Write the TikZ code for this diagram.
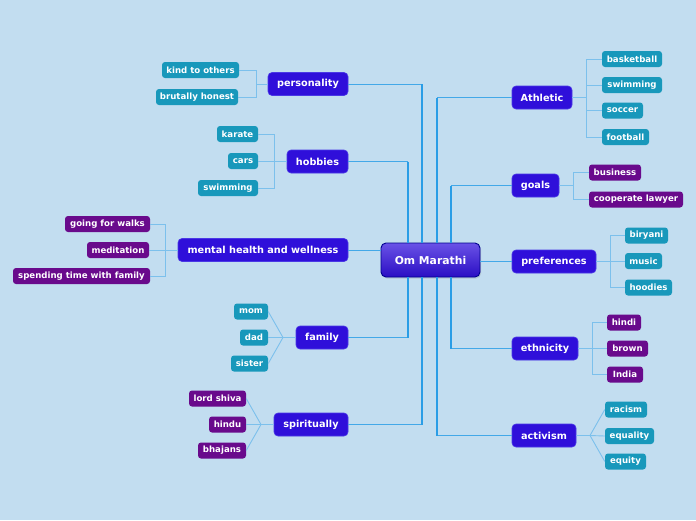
\documentclass[tikz,border=0pt]{standalone}
\usepackage{fontspec}
\setmainfont{DejaVu Sans}
\usetikzlibrary{shadows}
\definecolor{bgc}{HTML}{C2DDF0}
\definecolor{mainc}{HTML}{2F0FDA}
\definecolor{mainb}{HTML}{4A38E6}
\definecolor{tealc}{HTML}{1898BB}
\definecolor{purc}{HTML}{690A8C}
\definecolor{trunkc}{HTML}{2A9DE6}
\definecolor{linkc}{HTML}{7CC0EC}
\tikzset{
  mainnode/.style={draw=mainb, line width=0.6pt, fill=mainc, rounded corners=4pt, text=white,
    font=\fontsize{9.7}{11}\selectfont\bfseries, inner sep=0pt, minimum height=23pt},
  leafnode/.style={fill=#1, rounded corners=3pt, text=white,
    font=\fontsize{8.6}{10}\selectfont\bfseries, inner sep=0pt, minimum height=16pt},
  trunkh/.style={draw=trunkc!70!linkc, line width=1pt},
  trunkv/.style={draw=trunkc, line width=1.5pt},
  linkl/.style={draw=linkc, line width=0.9pt}
}
\begin{document}
\begin{tikzpicture}[x=1pt,y=-1pt]
\fill[bgc] (0,0) rectangle (696,520);
\useasboundingbox (0,0) rectangle (696,520);

% root
\node[draw=black!30!blue!80!black, line width=0.9pt, top color=violet!40!blue!60!white!80!blue, bottom color=mainc!90!black,
  rounded corners=5pt, text=white, font=\fontsize{10.8}{12}\selectfont\bfseries, inner sep=0pt,
  minimum width=99pt, minimum height=34pt,
  drop shadow={opacity=0.25, shadow xshift=1pt, shadow yshift=-1.5pt}] (om) at (430.5,260) {Om Marathi};

% main topics
\node[mainnode, minimum width=80pt] (pers) at (308,84) {personality};
\node[mainnode, minimum width=61pt] (hob) at (317.5,161.5) {hobbies};
\node[mainnode, minimum width=170pt] (ment) at (263,250) {mental health and wellness};
\node[mainnode, minimum width=52pt] (fam) at (322,337.5) {family};
\node[mainnode, minimum width=74pt] (spir) at (311,424.5) {spiritually};
\node[mainnode, minimum width=60pt] (ath) at (542,97.5) {Athletic};
\node[mainnode, minimum width=47pt] (goal) at (535.5,185.5) {goals};
\node[mainnode, minimum width=84pt] (pref) at (554,261.5) {preferences};
\node[mainnode, minimum width=66pt] (eth) at (545,348.5) {ethnicity};
\node[mainnode, minimum width=64pt] (act) at (544,435.5) {activism};

% leaves
\node[leafnode=tealc, minimum width=77pt] (kind) at (200.5,70) {kind to others};
\node[leafnode=tealc, minimum width=82pt] (brut) at (197,97) {brutally honest};
\node[leafnode=tealc, minimum width=41pt] (kar) at (237.5,134) {karate};
\node[leafnode=tealc, minimum width=30pt] (cars) at (243,161) {cars};
\node[leafnode=tealc, minimum width=60pt] (swim) at (228,188) {swimming};
\node[leafnode=purc, minimum width=85pt] (walk) at (107.5,224) {going for walks};
\node[leafnode=purc, minimum width=62pt] (medi) at (118,250) {meditation};
\node[leafnode=purc, minimum width=137pt] (spend) at (81.5,276) {spending time with family};
\node[leafnode=tealc, minimum width=34pt] (mom) at (251,311.5) {mom};
\node[leafnode=tealc, minimum width=28pt] (dad) at (254,337.5) {dad};
\node[leafnode=tealc, minimum width=37pt] (sis) at (249.5,363.5) {sister};
\node[leafnode=purc, minimum width=57pt] (shiva) at (217.5,398.5) {lord shiva};
\node[leafnode=purc, minimum width=37pt] (hindu) at (227.5,424.5) {hindu};
\node[leafnode=purc, minimum width=48pt] (bhaj) at (222,450.5) {bhajans};
\node[leafnode=tealc, minimum width=60pt] (bask) at (632,59) {basketball};
\node[leafnode=tealc, minimum width=60pt] (swim2) at (632,85) {swimming};
\node[leafnode=tealc, minimum width=41pt] (socc) at (622.5,110.5) {soccer};
\node[leafnode=tealc, minimum width=47pt] (foot) at (625.5,137) {football};
\node[leafnode=purc, minimum width=52pt] (bus) at (615,172.5) {business};
\node[leafnode=purc, minimum width=94pt] (law) at (636,199.5) {cooperate lawyer};
\node[leafnode=tealc, minimum width=43pt] (bir) at (646.5,235.5) {biryani};
\node[leafnode=tealc, minimum width=37pt] (mus) at (643.5,261) {music};
\node[leafnode=tealc, minimum width=47pt] (hood) at (648.5,287.5) {hoodies};
\node[leafnode=purc, minimum width=34pt] (hindi) at (624,322.5) {hindi};
\node[leafnode=purc, minimum width=41pt] (brown) at (627.5,348.5) {brown};
\node[leafnode=purc, minimum width=36pt] (india) at (625,374.5) {India};
\node[leafnode=tealc, minimum width=42pt] (rac) at (626,409.5) {racism};
\node[leafnode=tealc, minimum width=49pt] (equa) at (629.5,436) {equality};
\node[leafnode=tealc, minimum width=41pt] (equi) at (625.5,461.5) {equity};

% trunk coordinates on root
\coordinate (t1) at ([xshift=-8.5pt]om.north);
\coordinate (t2) at ([xshift=-22.5pt]om.north);
\coordinate (t3) at ([xshift=6.5pt]om.north);
\coordinate (t4) at ([xshift=20.5pt]om.north);
\coordinate (b1) at ([xshift=-22.5pt]om.south);
\coordinate (b2) at ([xshift=-8.5pt]om.south);
\coordinate (b3) at ([xshift=6.5pt]om.south);
\coordinate (b4) at ([xshift=20.5pt]om.south);

\draw[trunkh] (pers.east) -- (pers.east -| t1);
\draw[trunkv] (pers.east -| t1) -- (t1);
\draw[trunkh] (hob.east) -- (hob.east -| t2);
\draw[trunkv] (hob.east -| t2) -- (t2);
\draw[trunkh] (ath.west) -- (ath.west -| t3);
\draw[trunkv] (ath.west -| t3) -- (t3);
\draw[trunkh] (goal.west) -- (goal.west -| t4);
\draw[trunkv] (goal.west -| t4) -- (t4);
\draw[trunkh] (fam.east) -- (fam.east -| b1);
\draw[trunkv] (fam.east -| b1) -- (b1);
\draw[trunkh] (spir.east) -- (spir.east -| b2);
\draw[trunkv] (spir.east -| b2) -- (b2);
\draw[trunkh] (act.west) -- (act.west -| b3);
\draw[trunkv] (act.west -| b3) -- (b3);
\draw[trunkh] (eth.west) -- (eth.west -| b4);
\draw[trunkv] (eth.west -| b4) -- (b4);
\draw[trunkh] (ment.east) -- (ment.east -| om.west);
\draw[trunkh] (om.east |- pref.west) -- (pref.west);

% leaf links (elbow)
\draw[linkl] (pers.west) -- (256,84) |- (kind.east);
\draw[linkl] (256,84) |- (brut.east);
\draw[linkl] (hob.west) -- (274,161.5) |- (kar.east);
\draw[linkl] (274,161.5) |- (cars.east);
\draw[linkl] (274,161.5) |- (swim.east);
\draw[linkl] (ment.west) -- (165,250) |- (walk.east);
\draw[linkl] (165,250) |- (medi.east);
\draw[linkl] (165,250) |- (spend.east);
\draw[linkl] (ath.east) -- (586,97.5) |- (bask.west);
\draw[linkl] (586,97.5) |- (swim2.west);
\draw[linkl] (586,97.5) |- (socc.west);
\draw[linkl] (586,97.5) |- (foot.west);
\draw[linkl] (goal.east) -- (573,185.5) |- (bus.west);
\draw[linkl] (573,185.5) |- (law.west);
\draw[linkl] (pref.east) -- (610,261.5) |- (bir.west);
\draw[linkl] (610,261.5) |- (mus.west);
\draw[linkl] (610,261.5) |- (hood.west);
\draw[linkl] (eth.east) -- (592,348.5) |- (hindi.west);
\draw[linkl] (592,348.5) |- (brown.west);
\draw[linkl] (592,348.5) |- (india.west);
% fan links
\draw[linkl] (fam.west) -- (283,337.5) -- (mom.east);
\draw[linkl] (283,337.5) -- (dad.east);
\draw[linkl] (283,337.5) -- (sis.east);
\draw[linkl] (spir.west) -- (261,424.5) -- (shiva.east);
\draw[linkl] (261,424.5) -- (hindu.east);
\draw[linkl] (261,424.5) -- (bhaj.east);
\draw[linkl] (act.east) -- (590,435.5) -- (rac.west);
\draw[linkl] (590,435.5) -- (equa.west);
\draw[linkl] (590,435.5) -- (equi.west);
\end{tikzpicture}
\end{document}
